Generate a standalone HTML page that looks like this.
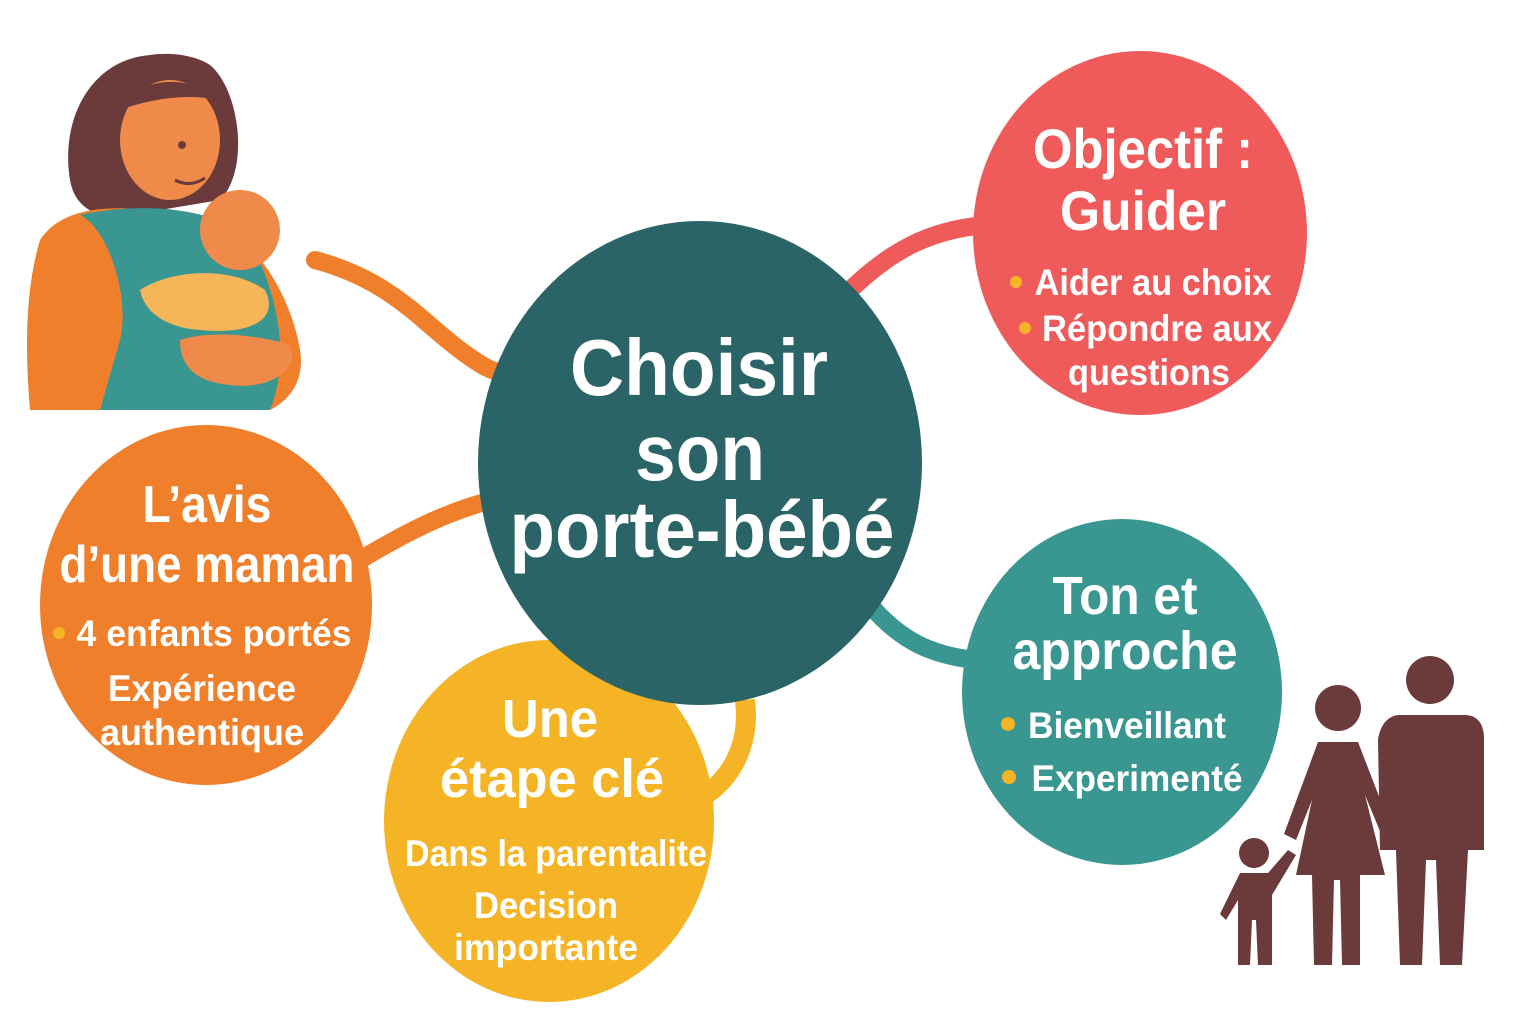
<!DOCTYPE html>
<html><head><meta charset="utf-8"><style>
html,body{margin:0;padding:0;background:#fff;}
svg{display:block}
text{font-family:"Liberation Sans",sans-serif;font-weight:bold;fill:#fff;text-anchor:middle}
</style></head><body>
<svg width="1536" height="1024" viewBox="0 0 1536 1024">
<path d="M315,260 C390,280 420,320 460,350 S500,370 520,375" stroke="#f07f2c" stroke-width="18" fill="none" stroke-linecap="round"/>
<path d="M360,560 C410,530 450,510 500,498" stroke="#f07f2c" stroke-width="18" fill="none"/>
<path d="M845,295 C890,250 930,230 985,225" stroke="#ef5b5b" stroke-width="18" fill="none"/>
<path d="M870,605 C900,640 930,655 975,660" stroke="#3a9690" stroke-width="18" fill="none"/>
<path d="M745,700 C750,740 735,775 705,795" stroke="#f4b425" stroke-width="20" fill="none"/>
<ellipse cx="1140" cy="233" rx="167" ry="182" fill="#ef5b5b"/>
<ellipse cx="206" cy="605" rx="166" ry="180" fill="#f07f2c"/>
<ellipse cx="549" cy="821" rx="165" ry="181" fill="#f4b425"/>
<ellipse cx="1122" cy="692" rx="160" ry="173" fill="#3a9690"/>
<ellipse cx="700" cy="463" rx="222" ry="242" fill="#2a6466"/>
<g lengthAdjust="spacingAndGlyphs">
<text x="699" y="395" font-size="80" textLength="258" lengthAdjust="spacingAndGlyphs">Choisir</text>
<text x="700" y="480" font-size="80" textLength="130" lengthAdjust="spacingAndGlyphs">son</text>
<text x="702" y="557" font-size="80" textLength="385" lengthAdjust="spacingAndGlyphs">porte-bébé</text>
<text x="1143" y="168" font-size="56" textLength="220" lengthAdjust="spacingAndGlyphs">Objectif :</text>
<text x="1143" y="230" font-size="56" textLength="166" lengthAdjust="spacingAndGlyphs">Guider</text>
<circle cx="1016" cy="282" r="6" fill="#f4b425"/>
<text x="1153" y="295" font-size="37" textLength="237" lengthAdjust="spacingAndGlyphs">Aider au choix</text>
<circle cx="1025" cy="328" r="6" fill="#f4b425"/>
<text x="1157" y="341" font-size="37" textLength="230" lengthAdjust="spacingAndGlyphs">Répondre aux</text>
<text x="1149" y="385" font-size="37" textLength="162" lengthAdjust="spacingAndGlyphs">questions</text>
<text x="207" y="522" font-size="52" textLength="129" lengthAdjust="spacingAndGlyphs">L’avis</text>
<text x="207" y="582" font-size="52" textLength="295" lengthAdjust="spacingAndGlyphs">d’une maman</text>
<circle cx="59" cy="633" r="6" fill="#f4b425"/>
<text x="214" y="646" font-size="37" textLength="275" lengthAdjust="spacingAndGlyphs">4 enfants portés</text>
<text x="202" y="701" font-size="37" textLength="188" lengthAdjust="spacingAndGlyphs">Expérience</text>
<text x="202" y="745" font-size="37" textLength="204" lengthAdjust="spacingAndGlyphs">authentique</text>
<text x="550" y="737" font-size="54" textLength="96" lengthAdjust="spacingAndGlyphs">Une</text>
<text x="552" y="797" font-size="54" textLength="224" lengthAdjust="spacingAndGlyphs">étape clé</text>
<text x="556" y="866" font-size="37" textLength="302" lengthAdjust="spacingAndGlyphs">Dans la parentalite</text>
<text x="546" y="918" font-size="37" textLength="144" lengthAdjust="spacingAndGlyphs">Decision</text>
<text x="546" y="960" font-size="37" textLength="184" lengthAdjust="spacingAndGlyphs">importante</text>
<text x="1125" y="614" font-size="54" textLength="145" lengthAdjust="spacingAndGlyphs">Ton et</text>
<text x="1125" y="669" font-size="54" textLength="225" lengthAdjust="spacingAndGlyphs">approche</text>
<circle cx="1008" cy="724" r="7" fill="#f4b425"/>
<text x="1127" y="738" font-size="37" textLength="198" lengthAdjust="spacingAndGlyphs">Bienveillant</text>
<circle cx="1009" cy="777" r="7" fill="#f4b425"/>
<text x="1137" y="791" font-size="37" textLength="211" lengthAdjust="spacingAndGlyphs">Experimenté</text>
</g>
<g>
<path d="M150,55 C90,60 60,120 70,180 C75,210 100,220 130,215 L220,200 C250,170 240,90 210,65 C195,55 170,52 150,55Z" fill="#6b3a3a"/>
<path d="M40,240 C60,210 100,205 150,210 L200,215 C250,230 290,290 300,350 C305,380 290,400 270,410 L30,410 C25,350 25,290 40,240Z" fill="#f07f2c"/>
<ellipse cx="170" cy="140" rx="50" ry="60" fill="#f08a4b"/>
<path d="M120,110 C130,80 190,70 215,100 C200,95 160,95 120,110Z" fill="#6b3a3a"/>
<path d="M80,215 C110,230 130,300 120,340 L100,410 L270,410 C290,360 280,300 250,240 C220,210 150,200 80,215Z" fill="#3a9690"/>
<circle cx="240" cy="230" r="40" fill="#f08a4b"/>
<path d="M140,290 C170,270 230,265 265,290 C280,320 250,335 200,330 C170,328 145,315 140,290Z" fill="#f7b55a"/>
<path d="M180,340 C210,330 260,335 290,345 C300,370 270,390 230,385 C200,382 180,370 180,340Z" fill="#f08a4b"/>
<circle cx="182" cy="145" r="4" fill="#6b3a3a"/>
<path d="M175,180 Q190,188 205,178" stroke="#6b3a3a" stroke-width="3" fill="none"/>
</g>
<g fill="#6b3a3a">
<circle cx="1430" cy="680" r="24"/>
<path d="M1400,715 L1465,715 C1478,715 1484,725 1484,738 L1484,850 L1468,850 L1462,965 L1440,965 L1436,860 L1426,860 L1422,965 L1400,965 L1396,850 L1380,850 L1378,740 C1380,725 1388,715 1400,715Z"/>
<circle cx="1338" cy="708" r="23"/>
<path d="M1318,742 L1358,742 L1392,830 L1382,836 L1365,795 L1385,875 L1360,875 L1360,965 L1342,965 L1340,880 L1334,880 L1332,965 L1314,965 L1312,875 L1296,875 L1312,800 L1296,840 L1284,834Z"/>
<circle cx="1254" cy="853" r="15"/>
<path d="M1240,873 L1268,873 L1288,850 L1296,855 L1272,895 L1272,965 L1258,965 L1256,920 L1252,920 L1250,965 L1238,965 L1238,900 L1226,920 L1220,914 Z"/>
</g>
</svg>
</body></html>
